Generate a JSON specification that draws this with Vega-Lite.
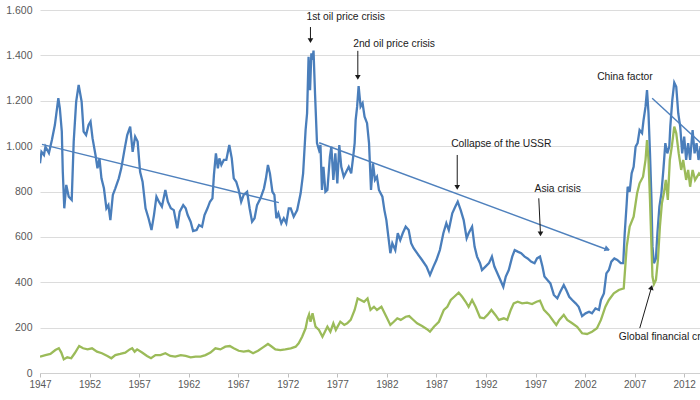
{
  "$schema": "https://vega.github.io/schema/vega-lite/v6.json",
  "width": 664,
  "height": 363,
  "autosize": {"type": "none"},
  "padding": {"left": 40, "top": 10, "right": 0, "bottom": 27},
  "background": "white",
  "config": {"view": {"stroke": null}, "font": "Liberation Sans"},
  "datasets": {
    "real": [
      {"year":1947.0,"value":924},{"year":1947.15,"value":975},{"year":1947.4,"value":961},{"year":1947.55,"value":998},{"year":1947.9,"value":970},
      {"year":1948.2,"value":1027},{"year":1948.5,"value":1093},{"year":1948.85,"value":1211},{"year":1949.0,"value":1168},{"year":1949.2,"value":1064},
      {"year":1949.3,"value":887},{"year":1949.45,"value":726},{"year":1949.65,"value":829},{"year":1949.9,"value":777},{"year":1950.2,"value":763},
      {"year":1950.4,"value":1020},{"year":1950.65,"value":1196},{"year":1950.9,"value":1270},{"year":1951.2,"value":1196},{"year":1951.4,"value":1064},
      {"year":1951.65,"value":1049},{"year":1951.9,"value":1093},{"year":1952.1,"value":1108},{"year":1952.3,"value":1035},{"year":1952.6,"value":961},
      {"year":1952.8,"value":902},{"year":1953.0,"value":946},{"year":1953.2,"value":858},{"year":1953.45,"value":814},{"year":1953.7,"value":726},
      {"year":1953.9,"value":740},{"year":1954.1,"value":674},{"year":1954.35,"value":785},{"year":1954.6,"value":814},{"year":1954.95,"value":858},
      {"year":1955.2,"value":902},{"year":1955.55,"value":990},{"year":1955.8,"value":1049},{"year":1956.1,"value":1086},{"year":1956.35,"value":975},
      {"year":1956.6,"value":1042},{"year":1956.85,"value":1020},{"year":1957.1,"value":887},{"year":1957.35,"value":843},{"year":1957.65,"value":726},
      {"year":1957.95,"value":682},{"year":1958.25,"value":630},{"year":1958.5,"value":696},{"year":1958.75,"value":777},{"year":1959.0,"value":755},
      {"year":1959.3,"value":733},{"year":1959.65,"value":807},{"year":1959.9,"value":755},{"year":1960.2,"value":726},{"year":1960.5,"value":718},
      {"year":1960.85,"value":638},{"year":1961.1,"value":711},{"year":1961.45,"value":740},{"year":1961.7,"value":726},{"year":1961.9,"value":696},
      {"year":1962.2,"value":667},{"year":1962.45,"value":626},{"year":1962.8,"value":630},{"year":1963.05,"value":652},{"year":1963.35,"value":645},
      {"year":1963.6,"value":696},{"year":1963.9,"value":726},{"year":1964.15,"value":755},{"year":1964.4,"value":770},{"year":1964.55,"value":873},
      {"year":1964.75,"value":968},{"year":1964.95,"value":902},{"year":1965.1,"value":946},{"year":1965.3,"value":917},{"year":1965.55,"value":939},
      {"year":1965.8,"value":939},{"year":1966.1,"value":1005},{"year":1966.35,"value":946},{"year":1966.55,"value":858},{"year":1966.8,"value":843},
      {"year":1967.05,"value":807},{"year":1967.3,"value":755},{"year":1967.55,"value":785},{"year":1967.9,"value":799},{"year":1968.15,"value":726},
      {"year":1968.4,"value":667},{"year":1968.65,"value":682},{"year":1968.9,"value":740},{"year":1969.25,"value":770},{"year":1969.6,"value":814},
      {"year":1969.8,"value":858},{"year":1970.0,"value":917},{"year":1970.2,"value":880},{"year":1970.45,"value":799},{"year":1970.65,"value":785},
      {"year":1970.85,"value":682},{"year":1971.05,"value":704},{"year":1971.35,"value":660},{"year":1971.6,"value":682},{"year":1971.85,"value":660},
      {"year":1972.1,"value":726},{"year":1972.3,"value":726},{"year":1972.6,"value":689},{"year":1972.95,"value":718},{"year":1973.3,"value":792},
      {"year":1973.55,"value":880},{"year":1973.8,"value":1071},{"year":1973.95,"value":1145},{"year":1974.1,"value":1394},{"year":1974.25,"value":1247},
      {"year":1974.38,"value":1409},{"year":1974.5,"value":1380},{"year":1974.6,"value":1421},{"year":1974.75,"value":1233},{"year":1974.95,"value":1013},
      {"year":1975.15,"value":983},{"year":1975.3,"value":1005},{"year":1975.45,"value":807},{"year":1975.6,"value":909},{"year":1975.8,"value":799},
      {"year":1976.0,"value":807},{"year":1976.25,"value":953},{"year":1976.4,"value":998},{"year":1976.6,"value":851},{"year":1976.8,"value":968},
      {"year":1977.0,"value":836},{"year":1977.2,"value":1005},{"year":1977.4,"value":909},{"year":1977.65,"value":865},{"year":1977.9,"value":887},
      {"year":1978.15,"value":909},{"year":1978.4,"value":880},{"year":1978.6,"value":953},{"year":1978.75,"value":1013},{"year":1978.85,"value":1115},
      {"year":1979.0,"value":1174},{"year":1979.15,"value":1265},{"year":1979.35,"value":1174},{"year":1979.55,"value":1189},{"year":1979.75,"value":1130},
      {"year":1980.0,"value":1101},{"year":1980.2,"value":1013},{"year":1980.4,"value":807},{"year":1980.6,"value":924},{"year":1980.8,"value":851},
      {"year":1981.0,"value":865},{"year":1981.2,"value":807},{"year":1981.55,"value":777},{"year":1981.75,"value":718},{"year":1981.95,"value":674},
      {"year":1982.15,"value":601},{"year":1982.35,"value":528},{"year":1982.55,"value":572},{"year":1982.85,"value":542},{"year":1983.1,"value":616},
      {"year":1983.35,"value":586},{"year":1983.6,"value":616},{"year":1983.9,"value":645},{"year":1984.2,"value":630},{"year":1984.45,"value":572},
      {"year":1984.7,"value":550},{"year":1985.05,"value":528},{"year":1985.55,"value":498},{"year":1986.0,"value":469},{"year":1986.35,"value":432},
      {"year":1986.7,"value":469},{"year":1987.0,"value":498},{"year":1987.35,"value":542},{"year":1987.7,"value":616},{"year":1988.0,"value":660},
      {"year":1988.25,"value":630},{"year":1988.6,"value":704},{"year":1988.9,"value":733},{"year":1989.15,"value":755},{"year":1989.45,"value":718},
      {"year":1989.75,"value":674},{"year":1990.05,"value":594},{"year":1990.25,"value":616},{"year":1990.6,"value":645},{"year":1990.85,"value":557},
      {"year":1991.1,"value":513},{"year":1991.4,"value":484},{"year":1991.6,"value":454},{"year":1991.95,"value":469},{"year":1992.3,"value":484},
      {"year":1992.6,"value":513},{"year":1992.85,"value":469},{"year":1993.15,"value":440},{"year":1993.45,"value":410},{"year":1993.75,"value":380},
      {"year":1994.0,"value":425},{"year":1994.3,"value":454},{"year":1994.65,"value":513},{"year":1994.9,"value":542},{"year":1995.2,"value":535},
      {"year":1995.55,"value":528},{"year":1995.9,"value":513},{"year":1996.2,"value":505},{"year":1996.55,"value":491},{"year":1996.9,"value":484},
      {"year":1997.15,"value":505},{"year":1997.45,"value":513},{"year":1997.7,"value":469},{"year":1997.9,"value":425},{"year":1998.2,"value":410},
      {"year":1998.5,"value":395},{"year":1998.85,"value":344},{"year":1999.2,"value":329},{"year":1999.5,"value":358},{"year":1999.85,"value":388},
      {"year":2000.1,"value":366},{"year":2000.4,"value":336},{"year":2000.7,"value":322},{"year":2001.05,"value":307},{"year":2001.35,"value":292},
      {"year":2001.7,"value":251},{"year":2002.05,"value":263},{"year":2002.4,"value":270},{"year":2002.7,"value":263},{"year":2003.05,"value":285},
      {"year":2003.4,"value":278},{"year":2003.6,"value":322},{"year":2003.9,"value":351},{"year":2004.15,"value":439},{"year":2004.4,"value":454},
      {"year":2004.65,"value":491},{"year":2004.95,"value":505},{"year":2005.25,"value":498},{"year":2005.6,"value":484},{"year":2005.85,"value":484},
      {"year":2006.0,"value":616},{"year":2006.2,"value":748},{"year":2006.3,"value":821},{"year":2006.5,"value":799},{"year":2006.7,"value":880},
      {"year":2006.9,"value":909},{"year":2007.1,"value":998},{"year":2007.3,"value":1013},{"year":2007.5,"value":1071},{"year":2007.75,"value":1057},
      {"year":2007.9,"value":1115},{"year":2008.1,"value":1174},{"year":2008.25,"value":1247},{"year":2008.4,"value":1145},{"year":2008.55,"value":968},
      {"year":2008.7,"value":763},{"year":2008.8,"value":557},{"year":2008.95,"value":484},{"year":2009.15,"value":505},{"year":2009.3,"value":616},
      {"year":2009.5,"value":733},{"year":2009.7,"value":792},{"year":2009.9,"value":895},{"year":2010.1,"value":1013},{"year":2010.3,"value":968},
      {"year":2010.5,"value":998},{"year":2010.6,"value":1086},{"year":2010.8,"value":1203},{"year":2011.0,"value":1280},{"year":2011.2,"value":1262},
      {"year":2011.4,"value":1145},{"year":2011.6,"value":1086},{"year":2011.8,"value":968},{"year":2012.0,"value":1042},{"year":2012.2,"value":939},
      {"year":2012.4,"value":1013},{"year":2012.6,"value":939},{"year":2012.85,"value":1071},{"year":2013.05,"value":968},{"year":2013.25,"value":1013},
      {"year":2013.45,"value":939},{"year":2013.65,"value":1000},{"year":2013.9,"value":950}
    ],
    "nominal": [
      {"year":1947.0,"value":72},{"year":1947.55,"value":79},{"year":1948.05,"value":84},{"year":1948.55,"value":101},{"year":1948.9,"value":109},
      {"year":1949.15,"value":90},{"year":1949.4,"value":60},{"year":1949.75,"value":69},{"year":1950.15,"value":65},{"year":1950.5,"value":87},
      {"year":1950.95,"value":119},{"year":1951.35,"value":109},{"year":1951.8,"value":104},{"year":1952.25,"value":109},{"year":1952.75,"value":94},
      {"year":1953.25,"value":87},{"year":1953.8,"value":75},{"year":1954.2,"value":65},{"year":1954.6,"value":79},{"year":1955.1,"value":84},
      {"year":1955.6,"value":90},{"year":1956.05,"value":104},{"year":1956.3,"value":109},{"year":1956.55,"value":94},{"year":1956.8,"value":104},
      {"year":1957.3,"value":90},{"year":1957.8,"value":75},{"year":1958.2,"value":65},{"year":1958.65,"value":79},{"year":1959.15,"value":79},
      {"year":1959.65,"value":87},{"year":1960.15,"value":75},{"year":1960.65,"value":72},{"year":1961.2,"value":79},{"year":1961.7,"value":75},
      {"year":1962.2,"value":69},{"year":1962.7,"value":72},{"year":1963.2,"value":72},{"year":1963.7,"value":79},{"year":1964.2,"value":90},
      {"year":1964.7,"value":109},{"year":1965.2,"value":104},{"year":1965.7,"value":116},{"year":1966.15,"value":119},{"year":1966.55,"value":109},
      {"year":1967.05,"value":98},{"year":1967.55,"value":94},{"year":1968.05,"value":98},{"year":1968.5,"value":87},{"year":1969.0,"value":98},
      {"year":1969.5,"value":113},{"year":1970.0,"value":128},{"year":1970.3,"value":119},{"year":1970.75,"value":104},{"year":1971.25,"value":101},
      {"year":1971.75,"value":104},{"year":1972.3,"value":109},{"year":1972.8,"value":116},{"year":1973.1,"value":131},{"year":1973.45,"value":160},
      {"year":1973.8,"value":197},{"year":1974.0,"value":240},{"year":1974.15,"value":258},{"year":1974.3,"value":226},{"year":1974.5,"value":263},
      {"year":1974.8,"value":204},{"year":1975.15,"value":190},{"year":1975.5,"value":160},{"year":1975.75,"value":182},{"year":1976.0,"value":204},
      {"year":1976.3,"value":182},{"year":1976.6,"value":219},{"year":1976.85,"value":190},{"year":1977.3,"value":226},{"year":1977.7,"value":212},
      {"year":1978.0,"value":219},{"year":1978.35,"value":234},{"year":1978.75,"value":278},{"year":1979.05,"value":329},{"year":1979.35,"value":322},
      {"year":1979.7,"value":314},{"year":1980.05,"value":329},{"year":1980.35,"value":278},{"year":1980.7,"value":292},{"year":1981.0,"value":278},
      {"year":1981.45,"value":292},{"year":1981.95,"value":248},{"year":1982.35,"value":212},{"year":1982.7,"value":226},{"year":1983.05,"value":241},
      {"year":1983.4,"value":234},{"year":1983.9,"value":248},{"year":1984.25,"value":251},{"year":1984.6,"value":237},{"year":1985.05,"value":219},
      {"year":1985.55,"value":207},{"year":1986.05,"value":193},{"year":1986.35,"value":182},{"year":1986.75,"value":204},{"year":1987.25,"value":226},
      {"year":1987.75,"value":278},{"year":1988.1,"value":292},{"year":1988.45,"value":322},{"year":1988.8,"value":336},{"year":1989.25,"value":354},
      {"year":1989.6,"value":336},{"year":1989.95,"value":314},{"year":1990.25,"value":292},{"year":1990.6,"value":322},{"year":1990.95,"value":292},
      {"year":1991.4,"value":245},{"year":1991.8,"value":241},{"year":1992.15,"value":256},{"year":1992.55,"value":278},{"year":1992.95,"value":256},
      {"year":1993.3,"value":234},{"year":1993.8,"value":241},{"year":1994.15,"value":234},{"year":1994.5,"value":278},{"year":1994.8,"value":307},
      {"year":1995.2,"value":314},{"year":1995.65,"value":307},{"year":1996.15,"value":310},{"year":1996.65,"value":304},{"year":1997.1,"value":314},
      {"year":1997.45,"value":319},{"year":1997.85,"value":278},{"year":1998.35,"value":256},{"year":1998.85,"value":226},{"year":1999.1,"value":212},
      {"year":1999.4,"value":234},{"year":1999.85,"value":256},{"year":2000.2,"value":234},{"year":2000.7,"value":219},{"year":2001.2,"value":204},
      {"year":2001.7,"value":175},{"year":2002.2,"value":172},{"year":2002.7,"value":182},{"year":2003.2,"value":197},{"year":2003.6,"value":234},
      {"year":2004.05,"value":292},{"year":2004.4,"value":322},{"year":2004.9,"value":351},{"year":2005.4,"value":366},{"year":2005.9,"value":373},
      {"year":2006.2,"value":557},{"year":2006.5,"value":645},{"year":2006.9,"value":689},{"year":2007.25,"value":792},{"year":2007.5,"value":836},
      {"year":2007.85,"value":865},{"year":2008.1,"value":939},{"year":2008.25,"value":1027},{"year":2008.4,"value":939},{"year":2008.55,"value":763},
      {"year":2008.7,"value":557},{"year":2008.8,"value":425},{"year":2008.95,"value":392},{"year":2009.15,"value":410},{"year":2009.35,"value":498},
      {"year":2009.55,"value":645},{"year":2009.75,"value":748},{"year":2009.95,"value":792},{"year":2010.15,"value":851},{"year":2010.35,"value":763},
      {"year":2010.55,"value":939},{"year":2010.75,"value":998},{"year":2011.0,"value":1086},{"year":2011.2,"value":1057},{"year":2011.45,"value":968},
      {"year":2011.7,"value":895},{"year":2011.9,"value":939},{"year":2012.2,"value":851},{"year":2012.4,"value":895},{"year":2012.6,"value":821},
      {"year":2012.85,"value":895},{"year":2013.1,"value":851},{"year":2013.5,"value":880},{"year":2013.9,"value":860}
    ],
    "trends": [
      {"id":"t1","year":1947.2,"value":1008},{"id":"t1","year":1971.1,"value":751},
      {"id":"t2","year":1975.17,"value":1015},{"id":"t2","year":2004.4,"value":541},
      {"id":"t3","year":2008.77,"value":1211},{"id":"t3","year":2014.0,"value":1001}
    ],
    "trendHead": [{"year":2004.25,"value":546}],
    "notes": [
      {"label":"1st oil price crisis","year":1973.89,"value":1569},
      {"label":"2nd oil price crisis","year":1978.6,"value":1449},
      {"label":"Collapse of the USSR","year":1988.49,"value":1008},
      {"label":"Asia crisis","year":1996.9,"value":812},
      {"label":"China factor","year":2003.22,"value":1305},
      {"label":"Global financial crisis","year":2005.4,"value":157}
    ],
    "arrows": [
      {"id":"a1","year":1974.29,"value":1525},{"id":"a1","year":1974.29,"value":1465},
      {"id":"a2","year":1979.07,"value":1420},{"id":"a2","year":1979.07,"value":1303},
      {"id":"a3","year":1989.1,"value":961},{"id":"a3","year":1989.1,"value":818},
      {"id":"a4","year":1997.33,"value":770},{"id":"a4","year":1997.5,"value":613},
      {"id":"a5","year":2007.52,"value":198},{"id":"a5","year":2008.7,"value":377}
    ],
    "downHeads": [
      {"year":1974.29,"value":1465},{"year":1979.07,"value":1303},{"year":1989.1,"value":818},{"year":1997.5,"value":613}
    ],
    "upHeads": [{"year":2008.7,"value":377}]
  },
  "encoding": {
    "x": {
      "field": "year", "type": "quantitative",
      "scale": {"domain": [1947, 2014], "nice": false, "zero": false},
      "axis": {
        "title": null, "values": [1947,1952,1957,1962,1967,1972,1977,1982,1987,1992,1997,2002,2007,2012],
        "format": "d", "grid": false, "labelFlush": false, "labelOverlap": false,
        "labelFontSize": 10, "labelColor": "#595959", "labelPadding": 2,
        "ticks": true, "tickSize": 4, "tickColor": "#bfbfbf", "domain": true, "domainColor": "#d0d0d0"
      }
    },
    "y": {
      "field": "value", "type": "quantitative",
      "scale": {"domain": [0, 1600], "nice": false},
      "axis": {
        "title": null, "values": [0,200,400,600,800,1000,1200,1400,1600],
        "labelExpr": "replace(format(datum.value, ','), ',', '.')",
        "grid": true, "gridColor": "#dcdcdc", "ticks": false, "domain": false,
        "labelFlush": false, "labelFontSize": 10.5, "labelColor": "#595959", "labelPadding": 8
      }
    }
  },
  "layer": [
    {"data": {"name": "real"}, "mark": {"type": "line", "color": "#4A7EBB", "strokeWidth": 2.3, "clip": true}},
    {"data": {"name": "nominal"}, "mark": {"type": "line", "color": "#9BBB59", "strokeWidth": 2.3, "clip": true}},
    {"data": {"name": "trends"}, "mark": {"type": "line", "color": "#4F81BD", "strokeWidth": 1.4, "clip": true},
     "encoding": {"detail": {"field": "id"}}},
    {"data": {"name": "trendHead"}, "mark": {"type": "point", "shape": "triangle-right", "filled": true, "opacity": 1, "color": "#4F81BD", "size": 40, "angle": 20}},
    {"data": {"name": "arrows"}, "mark": {"type": "line", "color": "#1a1a1a", "strokeWidth": 1},
     "encoding": {"detail": {"field": "id"}}},
    {"data": {"name": "downHeads"}, "mark": {"type": "point", "shape": "triangle-down", "filled": true, "opacity": 1, "color": "#1a1a1a", "size": 32}},
    {"data": {"name": "upHeads"}, "mark": {"type": "point", "shape": "triangle-up", "filled": true, "opacity": 1, "color": "#1a1a1a", "size": 32, "angle": 16}},
    {"data": {"name": "notes"}, "mark": {"type": "text", "align": "left", "baseline": "middle", "fontSize": 10.3, "color": "#1a1a1a", "font": "Liberation Sans"},
     "encoding": {"text": {"field": "label"}}}
  ]
}
